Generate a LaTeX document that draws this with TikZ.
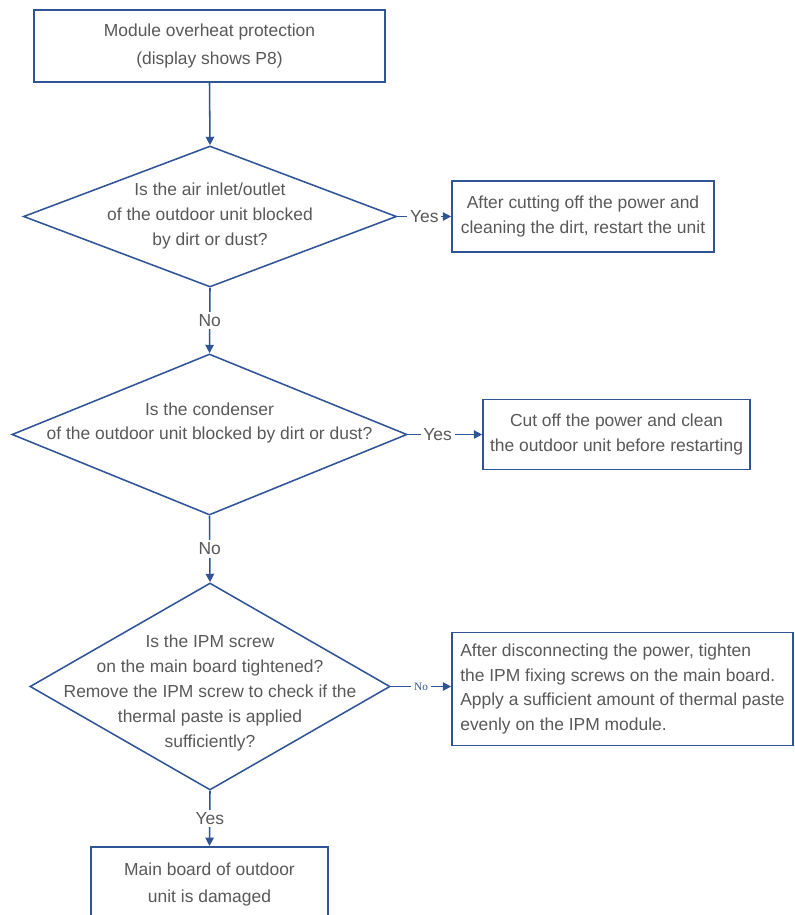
\documentclass[tikz,border=0pt]{standalone}
\usepackage{fontspec}
\setmainfont{Liberation Sans}
\newfontfamily\notefont{Liberation Serif}
\usepackage{tikz}
\usetikzlibrary{positioning,arrows.meta,shapes.geometric}
\definecolor{FlowBlue}{HTML}{2F5597}
\definecolor{TextGray}{HTML}{595959}

\begin{document}
\begin{tikzpicture}[x=0.025cm,y=-0.025cm,
          every node/.style={font=\fontsize{12.4}{17.7}\selectfont,text=TextGray},
          ar/.style={-{Triangle[length=6pt,width=6pt]},line width=1.1pt,FlowBlue},
          box/.style={draw=FlowBlue,line width=1.1pt,fill=white,align=center,inner sep=0pt},
          ask/.style={draw=FlowBlue,line width=1.1pt,diamond,inner sep=0pt},
          lbl/.style={fill=white,inner sep=2pt}]
        \useasboundingbox (0,0) rectangle (795,915);
        % start
        \node[box, minimum width=8.775cm, minimum height=1.8cm,
          font=\fontsize{12.4}{20.2}\selectfont]
        (b1) at (209.5,46)
        {Module overheat protection\\(display shows P8)};
        % first check
        \node[ask, minimum width=9.325cm, minimum height=3.525cm] (d1) at (210,216.5) {};
        \node[align=center] (d1t) at (210,216)
        {Is the air inlet/outlet\\of the outdoor unit blocked\\by dirt or dust?};
        \node[box, minimum width=6.55cm, minimum height=1.775cm]
        (b2) at (583,216.5)
        {After cutting off the power and\\cleaning the dirt, restart the unit};
        % second check
        \node[ask, minimum width=9.875cm, minimum height=4.025cm] (d2) at (209.5,434.5) {};
        \node[align=center] (d2t) at (209.5,423)
        {Is the condenser\\of the outdoor unit blocked by dirt or dust?};
        \node[box, minimum width=6.675cm, minimum height=1.75cm]
        (b3) at (616.5,434.5)
        {Cut off the power and clean\\the outdoor unit before restarting};
        % third check
        \node[ask, minimum width=9cm, minimum height=5.175cm] (d3) at (210,686.5) {};
        \node[align=center] (d3t) at (210,693)
        {Is the IPM screw\\on the main board tightened?\\Remove the IPM screw to check if the\\thermal paste is applied\\sufficiently?};
        \node[box, align=left, minimum width=8.525cm, minimum height=2.825cm]
        (b4) at (622.5,689)
        {After disconnecting the power, tighten\\the IPM fixing screws on the main board.\\Apply a sufficient amount of thermal paste\\evenly on the IPM module.};
        % end
        \node[box, minimum width=5.925cm, anchor=north, inner ysep=0.4cm,
          font=\fontsize{12.4}{19}\selectfont]
        (b5) at (209.5,846)
        {Main board of outdoor\\unit is damaged};
        \draw[ar](b1.south)--(d1.north);
        \draw[ar](d1.east)--node[lbl]{Yes}(b2.west);
        \draw[ar](d1.south)--node[lbl]{No}(d2.north);
        \draw[ar](d2.east)--node[lbl,pos=0.4]{Yes}(b3.west);
        \draw[ar](d2.south)--node[lbl]{No}(d3.north);
        \draw[ar](d3.east)--node[lbl,font=\notefont\fontsize{8}{9}\selectfont,text=FlowBlue]{No}(d3.east -| b4.west);
        \draw[ar](d3.south)--node[lbl]{Yes}(b5.north);
      \end{tikzpicture}
\end{document}
